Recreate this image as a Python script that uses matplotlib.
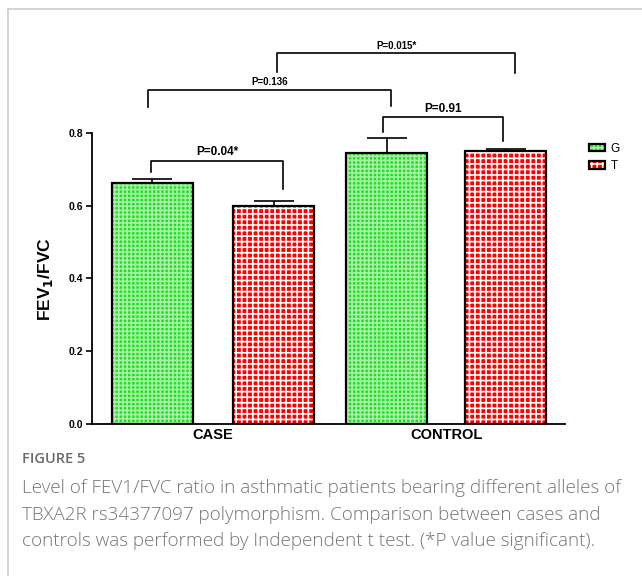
import matplotlib.pyplot as plt
from matplotlib.legend_handler import HandlerTuple

groups = ['CASE', 'CONTROL']
alleles = ['G', 'T']
means = [0.662, 0.599, 0.745, 0.750]
errs = [0.011, 0.014, 0.041, 0.005]
xpos = [0, 1.02, 1.97, 2.97]
group_pos = [0.51, 2.47]
# brackets: x left, x right, y left foot, y right foot, y top, label
br_x1 = [-0.01, 1.94, -0.04, 1.05]
br_x2 = [1.10, 2.95, 2.01, 3.05]
br_y1 = [0.692, 0.802, 0.871, 0.967]
br_y2 = [0.646, 0.777, 0.874, 0.964]
br_top = [0.723, 0.843, 0.918, 1.019]
br_lab = ['P=0.04*', 'P=0.91', 'P=0.136', 'P=0.015*']
br_size = [8.5, 8.5, 7, 7]

green = '#22dd22'
red = '#ff0000'
colors = [green, red, green, red]
hatches = ['++++', '+++', '++++', '+++']
hcolors = [(1, 1, 1, 0.6), 'white', (1, 1, 1, 0.6), 'white']

plt.rcParams['font.family'] = ['Liberation Sans', 'DejaVu Sans']
plt.rcParams['hatch.linewidth'] = 1.2

fig = plt.figure(figsize=(6.42, 5.76), dpi=100)
ax = fig.add_axes([0.143, 0.264, 0.737, 0.505])

fills = []
edges = []
for i in range(4):
    f = ax.bar(xpos[i], means[i], width=0.68, color=colors[i], edgecolor=hcolors[i],
               hatch=hatches[i], linewidth=0, zorder=2)
    e = ax.bar(xpos[i], means[i], width=0.68, fill=False, edgecolor='black',
               linewidth=1.6, zorder=3)
    fills.append(f[0])
    edges.append(e[0])
    ax.errorbar(xpos[i], means[i], yerr=[[0], [errs[i]]], color='black',
                elinewidth=1.2, capsize=14.5, capthick=1.2, zorder=1, fmt='none')

for i in range(4):
    ax.plot([br_x1[i], br_x1[i], br_x2[i], br_x2[i]], [br_y1[i], br_top[i], br_top[i], br_y2[i]],
            color='black', linewidth=1.2, clip_on=False)
    ax.text((br_x1[i] + br_x2[i]) / 2, br_top[i] + 0.008, br_lab[i], ha='center', va='bottom',
            fontsize=br_size[i], fontweight='bold')

ax.set_xlim(-0.51, 3.47)
ax.set_ylim(0, 0.8)
ax.set_yticks([0.0, 0.2, 0.4, 0.6, 0.8])
ax.set_yticklabels(['0.0', '0.2', '0.4', '0.6', '0.8'], fontsize=7.5, fontweight='bold')
ax.set_xticks(group_pos)
ax.set_xticklabels(groups, fontsize=10.5, fontweight='bold')
ax.tick_params(axis='x', length=0, pad=3)
ax.tick_params(axis='y', length=4.5, width=1.2, pad=1.5)
ax.spines['top'].set_visible(False)
ax.spines['right'].set_visible(False)
ax.spines['left'].set_linewidth(1.3)
ax.spines['bottom'].set_linewidth(1.3)
ax.set_ylabel('FEV$_\\mathbf{1}$/FVC', fontsize=12.5, fontweight='bold', labelpad=10)

ax.legend([(fills[0], edges[0]), (fills[1], edges[1])], alleles,
          handler_map={tuple: HandlerTuple(ndivide=1, pad=0)},
          loc='upper left', bbox_to_anchor=(0.918, 0.752), bbox_transform=fig.transFigure,
          frameon=False, fontsize=8.5, handlelength=1.3, handleheight=0.6,
          handletextpad=0.5, labelspacing=0.45, borderaxespad=0, borderpad=0)

# grey frame and caption
fig.add_artist(plt.Line2D([8 / 642, 1], [1 - 9 / 576, 1 - 9 / 576], color='#cccccc', linewidth=1.2))
fig.add_artist(plt.Line2D([8 / 642, 8 / 642], [0, 1 - 9 / 576], color='#cccccc', linewidth=1.2))
fig.text(22 / 642, 1 - 452 / 576, 'FIGURE 5', fontsize=10.5, color='#6a6a6a', va='top',
         family='Open Sans', fontweight='semibold')
caption = ['Level of FEV1/FVC ratio in asthmatic patients bearing different alleles of',
           'TBXA2R rs34377097 polymorphism. Comparison between cases and',
           'controls was performed by Independent t test. (*P value significant).']
for j in range(3):
    fig.text(22 / 642, 1 - (479 + 26.5 * j) / 576, caption[j], fontsize=13.6, color='#757575',
             va='top', family='Open Sans', fontweight='light')

fig.savefig('out.png', dpi=100)
